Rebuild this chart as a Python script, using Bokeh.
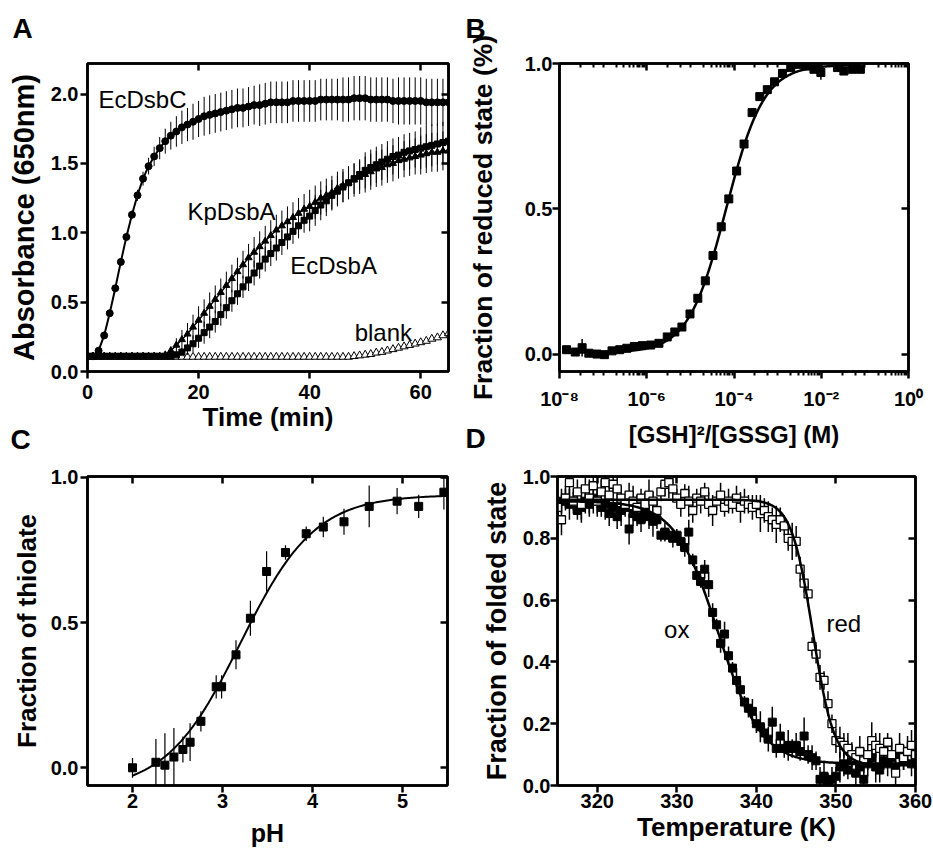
import numpy as np
from bokeh.plotting import figure
from bokeh.layouts import row, column
from bokeh.models import (Range1d, FixedTicker, LinearAxis, LogAxis, Label, Title,
                          NumeralTickFormatter, CustomJSTickFormatter, ColumnDataSource)
from bokeh.embed import file_html
from bokeh.resources import INLINE

FONT = "Liberation Sans"

# ---------------- Panel A data ----------------
A_time = [0, 1, 2, 3, 4, 5, 6, 7, 8, 9, 10, 11, 12, 13, 14, 15, 16, 17, 18, 19,
          20, 21, 22, 23, 24, 25, 26, 27, 28, 29, 30, 31, 32, 33, 34, 35, 36, 37, 38, 39,
          40, 41, 42, 43, 44, 45, 46, 47, 48, 49, 50, 51, 52, 53, 54, 55, 56, 57, 58, 59,
          60, 61, 62, 63, 64, 65]
EcDsbC = [0.11, 0.11, 0.15, 0.26, 0.42, 0.60, 0.79, 0.97, 1.13, 1.27,
          1.39, 1.48, 1.55, 1.61, 1.66, 1.70, 1.73, 1.76, 1.78, 1.80,
          1.82, 1.84, 1.85, 1.86, 1.87, 1.88, 1.89, 1.90, 1.90, 1.91,
          1.92, 1.92, 1.93, 1.94, 1.94, 1.94, 1.94, 1.95, 1.95, 1.95,
          1.95, 1.95, 1.96, 1.96, 1.96, 1.96, 1.96, 1.96, 1.97, 1.97,
          1.97, 1.96, 1.96, 1.96, 1.96, 1.95, 1.95, 1.95, 1.95, 1.95,
          1.95, 1.94, 1.94, 1.94, 1.94, 1.94]
EcDsbC_err = [0.01, 0.01, 0.01, 0.01, 0.02, 0.02, 0.02, 0.03, 0.03, 0.04,
              0.05, 0.06, 0.07, 0.08, 0.09, 0.10, 0.11, 0.12, 0.12, 0.13,
              0.13, 0.14, 0.14, 0.14, 0.14, 0.14, 0.14, 0.14, 0.14, 0.14,
              0.14, 0.15, 0.15, 0.15, 0.15, 0.15, 0.15, 0.15, 0.15, 0.15,
              0.15, 0.15, 0.15, 0.15, 0.15, 0.15, 0.16, 0.16, 0.16, 0.16,
              0.16, 0.16, 0.16, 0.16, 0.16, 0.16, 0.17, 0.17, 0.17, 0.17,
              0.17, 0.17, 0.17, 0.17, 0.17, 0.17]
KpDsbA = [0.11, 0.11, 0.11, 0.11, 0.11, 0.11, 0.11, 0.11, 0.11, 0.11,
          0.11, 0.11, 0.11, 0.11, 0.12, 0.15, 0.19, 0.23, 0.27, 0.32,
          0.37, 0.42, 0.47, 0.52, 0.57, 0.62, 0.67, 0.72, 0.77, 0.82,
          0.86, 0.90, 0.94, 0.98, 1.02, 1.05, 1.08, 1.11, 1.14, 1.17,
          1.19, 1.22, 1.25, 1.27, 1.29, 1.32, 1.34, 1.36, 1.38, 1.40,
          1.42, 1.44, 1.46, 1.47, 1.49, 1.50, 1.52, 1.53, 1.54, 1.55,
          1.56, 1.57, 1.58, 1.58, 1.59, 1.59]
KpDsbA_err = [0.01, 0.01, 0.01, 0.01, 0.01, 0.01, 0.01, 0.01, 0.01, 0.01,
              0.01, 0.01, 0.01, 0.01, 0.01, 0.03, 0.05, 0.07, 0.08, 0.09,
              0.10, 0.10, 0.10, 0.10, 0.10, 0.10, 0.10, 0.10, 0.10, 0.10,
              0.11, 0.11, 0.11, 0.11, 0.11, 0.11, 0.11, 0.11, 0.11, 0.11,
              0.12, 0.12, 0.12, 0.12, 0.12, 0.12, 0.12, 0.12, 0.12, 0.12,
              0.13, 0.13, 0.13, 0.13, 0.13, 0.13, 0.13, 0.13, 0.13, 0.13,
              0.14, 0.14, 0.14, 0.14, 0.14, 0.14]
EcDsbA = [0.11, 0.11, 0.11, 0.11, 0.11, 0.11, 0.11, 0.11, 0.11, 0.11,
          0.11, 0.11, 0.11, 0.11, 0.11, 0.11, 0.12, 0.14, 0.17, 0.20,
          0.24, 0.28, 0.32, 0.36, 0.41, 0.46, 0.51, 0.56, 0.61, 0.66,
          0.71, 0.76, 0.81, 0.85, 0.89, 0.93, 0.97, 1.01, 1.05, 1.09,
          1.12, 1.16, 1.20, 1.23, 1.27, 1.30, 1.33, 1.36, 1.39, 1.42,
          1.45, 1.47, 1.49, 1.51, 1.53, 1.55, 1.56, 1.58, 1.59, 1.60,
          1.61, 1.62, 1.63, 1.64, 1.65, 1.66]
EcDsbA_err = [0.01, 0.01, 0.01, 0.01, 0.01, 0.01, 0.01, 0.01, 0.01, 0.01,
              0.01, 0.01, 0.01, 0.01, 0.01, 0.01, 0.01, 0.03, 0.05, 0.06,
              0.07, 0.08, 0.08, 0.08, 0.08, 0.08, 0.08, 0.08, 0.08, 0.08,
              0.09, 0.09, 0.09, 0.09, 0.09, 0.09, 0.09, 0.09, 0.09, 0.09,
              0.11, 0.11, 0.11, 0.11, 0.11, 0.11, 0.11, 0.11, 0.11, 0.11,
              0.13, 0.13, 0.13, 0.13, 0.13, 0.13, 0.13, 0.13, 0.13, 0.13,
              0.15, 0.15, 0.15, 0.15, 0.15, 0.15]
Blank = [0.105, 0.105, 0.105, 0.105, 0.105, 0.105, 0.105, 0.105, 0.105, 0.105,
         0.105, 0.105, 0.105, 0.105, 0.105, 0.105, 0.105, 0.105, 0.105, 0.105,
         0.105, 0.105, 0.105, 0.105, 0.105, 0.105, 0.105, 0.105, 0.105, 0.105,
         0.105, 0.105, 0.105, 0.105, 0.105, 0.105, 0.105, 0.105, 0.105, 0.105,
         0.105, 0.105, 0.105, 0.105, 0.105, 0.105, 0.105, 0.105, 0.11, 0.115,
         0.12, 0.125, 0.135, 0.14, 0.15, 0.16, 0.17, 0.18, 0.19, 0.20,
         0.21, 0.22, 0.235, 0.245, 0.26, 0.275]

# ---------------- Panel B data ----------------
B_ratio = [1.45e-8, 2.3e-8, 3.3e-8, 4.7e-8, 7.2e-8, 1.07e-7, 1.6e-7, 2.4e-7, 3.5e-7, 5.2e-7,
           7.9e-7, 1.23e-6, 1.9e-6, 2.95e-6, 4.4e-6, 6.4e-6, 9.8e-6, 1.48e-5, 2.2e-5, 3.3e-5,
           5.1e-5, 7.6e-5, 1.15e-4, 1.7e-4, 2.6e-4, 3.9e-4, 5.8e-4, 8.5e-4, 1.29e-3, 2.0e-3,
           2.95e-3, 4.4e-3, 6.8e-3, 9.8e-3, 2.35e-2, 3.3e-2, 5.1e-2, 7.9e-2]
B_frac = [0.015, 0.007, 0.022, 0.003, 0.0, -0.002, 0.011, 0.015, 0.020, 0.026,
          0.029, 0.031, 0.037, 0.059, 0.076, 0.093, 0.138, 0.192, 0.252, 0.339,
          0.438, 0.534, 0.630, 0.723, 0.831, 0.886, 0.910, 0.937, 0.966, 0.986,
          0.997, 0.991, 0.980, 0.969, 0.986, 0.974, 0.980, 0.980]
B_err = [0.008, 0.008, 0.03, 0.008, 0.008, 0.008, 0.008, 0.008, 0.008, 0.008,
         0.008, 0.008, 0.008, 0.008, 0.008, 0.008, 0.008, 0.008, 0.008, 0.008,
         0.008, 0.008, 0.008, 0.008, 0.008, 0.008, 0.008, 0.008, 0.008, 0.008,
         0.008, 0.008, 0.012, 0.025, 0.008, 0.01, 0.008, 0.008]
B_fit = dict(bottom=0.005, top=0.995, log_ec50=-4.18, hill=1.0)

# ---------------- Panel C data ----------------
C_pH = [2.0, 2.26, 2.36, 2.46, 2.56, 2.64, 2.76, 2.93, 2.99, 3.15,
        3.31, 3.49, 3.70, 3.93, 4.12, 4.35, 4.63, 4.94, 5.18, 5.46]
C_frac = [0.0, 0.019, 0.009, 0.037, 0.063, 0.088, 0.16, 0.279, 0.279, 0.389,
          0.515, 0.676, 0.741, 0.806, 0.829, 0.847, 0.90, 0.918, 0.90, 0.949]
C_err = [0.034, 0.08, 0.11, 0.10, 0.045, 0.065, 0.035, 0.04, 0.04, 0.05,
         0.06, 0.07, 0.025, 0.025, 0.035, 0.045, 0.072, 0.045, 0.04, 0.06]
C_fit = dict(bottom=-0.08, top=0.94, pka=3.2, n=1.05)

# ---------------- Panel D data ----------------
D_temp = [315.0, 315.5, 316.0, 316.5, 317.0, 317.5, 318.0, 318.5, 319.0, 319.5,
          320.0, 320.5, 321.0, 321.5, 322.0, 322.5, 323.0, 323.5, 324.0, 324.5,
          325.0, 325.5, 326.0, 326.5, 327.0, 327.5, 328.0, 328.5, 329.0, 329.5,
          330.0, 330.5, 331.0, 331.5, 332.0, 332.5, 333.0, 333.5, 334.0, 334.5,
          335.0, 335.5, 336.0, 336.5, 337.0, 337.5, 338.0, 338.5, 339.0, 339.5,
          340.0, 340.5, 341.0, 341.5, 342.0, 342.5, 343.0, 343.5, 344.0, 344.5,
          345.0, 345.5, 346.0, 346.5, 347.0, 347.5, 348.0, 348.5, 349.0, 349.5,
          350.0, 350.5, 351.0, 351.5, 352.0, 352.5, 353.0, 353.5, 354.0, 354.5,
          355.0, 355.5, 356.0, 356.5, 357.0, 357.5, 358.0, 358.5, 359.0, 359.5,
          360.0]
D_ox = [0.90, 0.92, 0.93, 0.91, 0.92, 0.89, 0.90, 0.92, 0.91, 0.93,
        0.92, 0.90, 0.91, 0.88, 0.90, 0.87, 0.89, 0.90, 0.83, 0.88,
        0.87, 0.86, 0.88, 0.87, 0.855, 0.86, 0.81, 0.82, 0.81, 0.80,
        0.81, 0.79, 0.77, 0.82, 0.73, 0.68, 0.66, 0.70, 0.65, 0.56,
        0.52, 0.46, 0.49, 0.42, 0.38, 0.34, 0.31, 0.27, 0.25, 0.24,
        0.20, 0.19, 0.17, 0.15, 0.205, 0.12, 0.16, 0.12, 0.13, 0.12,
        0.13, 0.11, 0.16, 0.10, 0.09, 0.08, 0.02, 0.03, 0.01, 0.02,
        0.03, 0.06, 0.07, 0.05, 0.08, 0.04, 0.06, 0.02, 0.07, 0.09,
        0.06, 0.05, 0.08, 0.07, 0.09, 0.06, 0.10, 0.08, 0.11, 0.07,
        0.08]
D_ox_err = [0.03, 0.04, 0.03, 0.05, 0.04, 0.03, 0.05, 0.04, 0.03, 0.05,
            0.04, 0.03, 0.05, 0.04, 0.03, 0.04, 0.05, 0.03, 0.05, 0.04,
            0.03, 0.04, 0.03, 0.04, 0.05, 0.03, 0.02, 0.03, 0.02, 0.03,
            0.02, 0.03, 0.03, 0.04, 0.02, 0.03, 0.02, 0.03, 0.04, 0.03,
            0.02, 0.03, 0.04, 0.03, 0.02, 0.04, 0.03, 0.02, 0.03, 0.04,
            0.03, 0.05, 0.03, 0.04, 0.05, 0.03, 0.04, 0.03, 0.05, 0.03,
            0.04, 0.03, 0.06, 0.03, 0.04, 0.03, 0.04, 0.05, 0.03, 0.04,
            0.03, 0.05, 0.04, 0.03, 0.05, 0.04, 0.03, 0.05, 0.04, 0.03,
            0.05, 0.04, 0.03, 0.04, 0.05, 0.03, 0.04, 0.03, 0.05, 0.04,
            0.03]
D_red = [0.90, 0.86, 0.93, 0.98, 0.92, 0.95, 0.91, 0.96, 0.93, 0.97,
         0.92, 0.95, 0.98, 0.94, 0.975, 0.96, 0.93, 0.91, 0.94, 0.92,
         0.90, 0.93, 0.91, 0.94, 0.92, 0.89, 0.95, 0.975, 0.98, 0.96,
         0.93, 0.91, 0.945, 0.92, 0.89, 0.93, 0.92, 0.95, 0.91, 0.89,
         0.92, 0.94, 0.90, 0.92, 0.91, 0.93, 0.90, 0.92, 0.91, 0.90,
         0.91, 0.88, 0.89, 0.87, 0.86, 0.845, 0.86, 0.84, 0.80, 0.79,
         0.79, 0.70, 0.655, 0.62, 0.45, 0.425, 0.35, 0.34, 0.265, 0.20,
         0.145, 0.14, 0.13, 0.12, 0.10, 0.09, 0.11, 0.08, 0.10, 0.145,
         0.13, 0.12, 0.11, 0.14, 0.10, 0.04, 0.12, 0.09, 0.11, 0.13,
         0.10]
D_red_err = [0.04, 0.05, 0.04, 0.05, 0.03, 0.04, 0.05, 0.04, 0.06, 0.04,
             0.05, 0.04, 0.05, 0.03, 0.04, 0.05, 0.04, 0.03, 0.04, 0.05,
             0.04, 0.03, 0.04, 0.05, 0.03, 0.04, 0.03, 0.04, 0.05, 0.04,
             0.03, 0.04, 0.03, 0.05, 0.04, 0.03, 0.04, 0.03, 0.04, 0.05,
             0.03, 0.04, 0.03, 0.04, 0.03, 0.04, 0.05, 0.04, 0.03, 0.04,
             0.03, 0.06, 0.04, 0.05, 0.04, 0.06, 0.04, 0.03, 0.04, 0.06,
             0.05, 0.04, 0.03, 0.04, 0.03, 0.03, 0.04, 0.03, 0.04, 0.03,
             0.04, 0.05, 0.04, 0.05, 0.04, 0.03, 0.05, 0.04, 0.05, 0.06,
             0.04, 0.05, 0.04, 0.03, 0.05, 0.04, 0.05, 0.04, 0.03, 0.05,
             0.04]
D_fit_ox = dict(top=0.92, bottom=0.07, tm=335.2, width=2.7)
D_fit_red = dict(top=0.925, bottom=0.065, tm=347.1, width=1.35)

ROW1_SHIFT = 15   # row 1 starts above the page top (letters need room)
ROW2_SHIFT = 60   # row 2 overlaps the bottom of row 1 (transparent border)


# ---------------- helpers ----------------
def base_fig(w, h, bl, br, bt, bb, xr, yr, xtype="linear", transparent=False):
    p = figure(width=w, height=h, x_range=xr, y_range=yr, x_axis_type=xtype,
               output_backend="svg", toolbar_location=None, title=None,
               min_border_left=bl, min_border_right=br,
               min_border_top=bt, min_border_bottom=bb)
    p.xgrid.visible = False
    p.ygrid.visible = False
    p.outline_line_color = "black"
    p.outline_line_width = 2.5
    p.background_fill_color = "white"
    p.border_fill_color = "white"
    if transparent:
        p.border_fill_alpha = 0
    return p


def style_axis(ax, ticker, fmt, label, label_size, tick_size=20,
               tick_standoff=2, label_standoff=5):
    ax.ticker = ticker
    ax.formatter = fmt
    ax.axis_label = label
    ax.axis_line_width = 2.5
    ax.axis_line_color = "black"
    ax.major_tick_line_width = 2.5
    ax.major_tick_out = 7
    ax.major_tick_in = 0
    ax.minor_tick_line_width = 2
    ax.minor_tick_out = 4
    ax.minor_tick_in = 0
    ax.major_label_text_font = FONT
    ax.major_label_text_font_style = "bold"
    ax.major_label_text_font_size = f"{tick_size}px"
    ax.major_label_text_color = "black"
    ax.major_label_standoff = tick_standoff
    ax.axis_label_text_font = FONT
    ax.axis_label_text_font_style = "bold"
    ax.axis_label_text_font_size = f"{label_size}px"
    ax.axis_label_text_color = "black"
    ax.axis_label_standoff = label_standoff


def mirror_axis(p, side, ticker, log=False):
    ax = LogAxis(ticker=ticker) if log else LinearAxis(ticker=ticker)
    ax.major_label_text_font_size = "0px"
    ax.major_label_text_color = None
    ax.major_label_standoff = 0
    ax.major_tick_in = 7
    ax.major_tick_out = 0
    ax.major_tick_line_width = 2.5
    ax.minor_tick_in = 4
    ax.minor_tick_out = 0
    ax.minor_tick_line_width = 2
    ax.axis_line_width = 2.5
    ax.axis_line_color = "black"
    p.add_layout(ax, side)


def letter(p, text, offset, standoff):
    p.add_layout(Title(text=text, align="left", offset=offset, standoff=standoff,
                       vertical_align="bottom", text_font=FONT, text_font_style="bold",
                       text_font_size="28px", text_color="black"), "above")


def note(p, text, x, y):
    p.add_layout(Label(x=x, y=y, text=text, text_font=FONT, text_font_size="24px",
                       text_color="black", text_baseline="alphabetic", text_align="left"))


def err_source(x, y, e):
    y = np.asarray(y, dtype=float)
    e = np.asarray(e, dtype=float)
    return ColumnDataSource(dict(x=x, y=y, lo=y - e, hi=y + e))


# ---------------- Panel A ----------------
pA = base_fig(460, 450 + ROW1_SHIFT, 87, 12, 63 + ROW1_SHIFT, 76, Range1d(0, 65), Range1d(0, 2.22))
style_axis(pA.below[0], FixedTicker(ticks=[0, 20, 40, 60]), NumeralTickFormatter(format="0"),
           "Time (min)", 26, tick_standoff=6, label_standoff=0)
style_axis(pA.left[0], FixedTicker(ticks=[0, 0.5, 1.0, 1.5, 2.0]), NumeralTickFormatter(format="0.0"),
           "Absorbance (650nm)", 29, tick_standoff=2, label_standoff=8)
mirror_axis(pA, "above", FixedTicker(ticks=[20, 40, 60]))
mirror_axis(pA, "right", FixedTicker(ticks=[0.5, 1.0, 1.5, 2.0]))

pA.scatter(A_time, Blank, marker="triangle", size=8, fill_color="white",
           line_color="black", line_width=1)
for vals, errs, mk, sz in [(EcDsbA, EcDsbA_err, "square", 6),
                           (KpDsbA, KpDsbA_err, "triangle", 7)]:
    s = err_source(A_time, vals, errs)
    pA.segment(x0="x", y0="lo", x1="x", y1="hi", source=s, line_color="black", line_width=1)
    pA.line("x", "y", source=s, line_color="black", line_width=1.5)
    pA.scatter("x", "y", source=s, marker=mk, size=sz, fill_color="black", line_color="black")
sC = err_source(A_time, EcDsbC, EcDsbC_err)
pA.segment(x0="x", y0="lo", x1="x", y1="hi", source=sC, line_color="black", line_width=1)
pA.line("x", "y", source=sC, line_color="black", line_width=2)
pA.scatter("x", "y", source=sC, marker="circle", size=7, fill_color="black", line_color="black")

note(pA, "EcDsbC", 1.98, 1.96)
note(pA, "KpDsbA", 18.0, 1.15)
note(pA, "EcDsbA", 36.5, 0.765)
note(pA, "blank", 48.1, 0.28)
letter(pA, "A", -75, 40)

# ---------------- Panel B ----------------
pB = base_fig(473, 450 + ROW1_SHIFT, 99, 25, 63 + ROW1_SHIFT, 73, Range1d(1e-8, 1.0), Range1d(-0.06, 1.0),
              xtype="log")
b_major = [1e-8, 1e-6, 1e-4, 1e-2, 1.0]
b_minor = []
for e in (-8, -6, -4, -2):
    b_minor += [3 * 10.0 ** e, 6 * 10.0 ** e] + [k * 10.0 ** (e + 1) for k in range(1, 10)]
sup_fmt = CustomJSTickFormatter(code="""
const s = {"-": "\u207b", "0": "\u2070", "1": "\u00b9", "2": "\u00b2", "3": "\u00b3",
           "4": "\u2074", "5": "\u2075", "6": "\u2076", "7": "\u2077", "8": "\u2078", "9": "\u2079"};
const e = String(Math.round(Math.log10(tick)));
let out = "10";
for (const c of e) { out += s[c]; }
return out;
""")
style_axis(pB.below[0], FixedTicker(ticks=b_major, minor_ticks=b_minor), sup_fmt,
           "[GSH]\u00b2/[GSSG] (M)", 24, tick_standoff=9, label_standoff=8)
style_axis(pB.left[0], FixedTicker(ticks=[0, 0.5, 1.0]), NumeralTickFormatter(format="0.0"),
           "Fraction of reduced state (%)", 26.5, tick_standoff=0, label_standoff=24)
mirror_axis(pB, "above", FixedTicker(ticks=b_major, minor_ticks=b_minor), log=True)
mirror_axis(pB, "right", FixedTicker(ticks=[0, 0.5, 1.0]))

bx = np.logspace(-7.86, -1.1, 300)
by = B_fit["bottom"] + (B_fit["top"] - B_fit["bottom"]) / (
    1 + 10 ** ((B_fit["log_ec50"] - np.log10(bx)) * B_fit["hill"]))
pB.line(bx, by, line_color="black", line_width=2.5)
sB = err_source(B_ratio, B_frac, B_err)
pB.segment(x0="x", y0="lo", x1="x", y1="hi", source=sB, line_color="black", line_width=1.5)
pB.scatter("x", "y", source=sB, marker="square", size=8, fill_color="black", line_color="black")
letter(pB, "B", -94, 40)

# ---------------- Panel C ----------------
row2_top = 450 - ROW2_SHIFT
pC = base_fig(460, 851 - row2_top, 87, 13, 475 - row2_top, 65, Range1d(1.5, 5.5), Range1d(-0.061, 1.003),
              transparent=True)
style_axis(pC.below[0], FixedTicker(ticks=[2, 3, 4, 5]), NumeralTickFormatter(format="0"),
           "pH", 25, tick_standoff=1, label_standoff=8)
style_axis(pC.left[0], FixedTicker(ticks=[0, 0.5, 1.0]), NumeralTickFormatter(format="0.0"),
           "Fraction of thiolate", 26, tick_standoff=2, label_standoff=6)
mirror_axis(pC, "above", FixedTicker(ticks=[2, 3, 4, 5]))
mirror_axis(pC, "right", FixedTicker(ticks=[0, 0.5, 1.0]))

cx = np.linspace(2.0, 5.5, 200)
cy = C_fit["bottom"] + (C_fit["top"] - C_fit["bottom"]) / (
    1 + 10 ** (C_fit["n"] * (C_fit["pka"] - cx)))
pC.line(cx, cy, line_color="black", line_width=2)
sCc = err_source(C_pH, C_frac, C_err)
pC.segment(x0="x", y0="lo", x1="x", y1="hi", source=sCc, line_color="black", line_width=1.2)
pC.scatter("x", "y", source=sCc, marker="square", size=8, fill_color="black", line_color="black")
letter(pC, "C", -77, 44)

# ---------------- Panel D ----------------
pD = base_fig(473, 851 - row2_top, 97, 18, 476 - row2_top, 66, Range1d(315, 360), Range1d(0, 1.0),
              transparent=True)
style_axis(pD.below[0], FixedTicker(ticks=[320, 330, 340, 350, 360]), NumeralTickFormatter(format="0"),
           "Temperature (K)", 26, tick_standoff=1, label_standoff=1)
style_axis(pD.left[0], FixedTicker(ticks=[0, 0.2, 0.4, 0.6, 0.8, 1.0]), NumeralTickFormatter(format="0.0"),
           "Fraction of folded state", 27, tick_standoff=0, label_standoff=8)
mirror_axis(pD, "above", FixedTicker(ticks=[320, 330, 340, 350]))
mirror_axis(pD, "right", FixedTicker(ticks=[0.2, 0.4, 0.6, 0.8]))

sOx = err_source(D_temp, D_ox, D_ox_err)
sRed = err_source(D_temp, D_red, D_red_err)
pD.segment(x0="x", y0="lo", x1="x", y1="hi", source=sOx, line_color="black", line_width=1.5)
pD.scatter("x", "y", source=sOx, marker="square", size=8, fill_color="black", line_color="black")
pD.segment(x0="x", y0="lo", x1="x", y1="hi", source=sRed, line_color="black", line_width=1.5)
pD.scatter("x", "y", source=sRed, marker="square", size=8, fill_color="white",
           line_color="black", line_width=1.3)
tx = np.linspace(315, 360, 300)
for f in (D_fit_ox, D_fit_red):
    ty = f["bottom"] + (f["top"] - f["bottom"]) / (1 + np.exp((tx - f["tm"]) / f["width"]))
    pD.line(tx, ty, line_color="black", line_width=2.5)
note(pD, "ox", 328.4, 0.506)
note(pD, "red", 348.8, 0.523)
letter(pD, "D", -92, 46)

layout = column(row(pA, pB, margin=(-ROW1_SHIFT, 0, 0, 0)),
                row(pC, pD, margin=(-ROW2_SHIFT, 0, 0, 0)))
open("out.html", "w").write(file_html(layout, INLINE))
